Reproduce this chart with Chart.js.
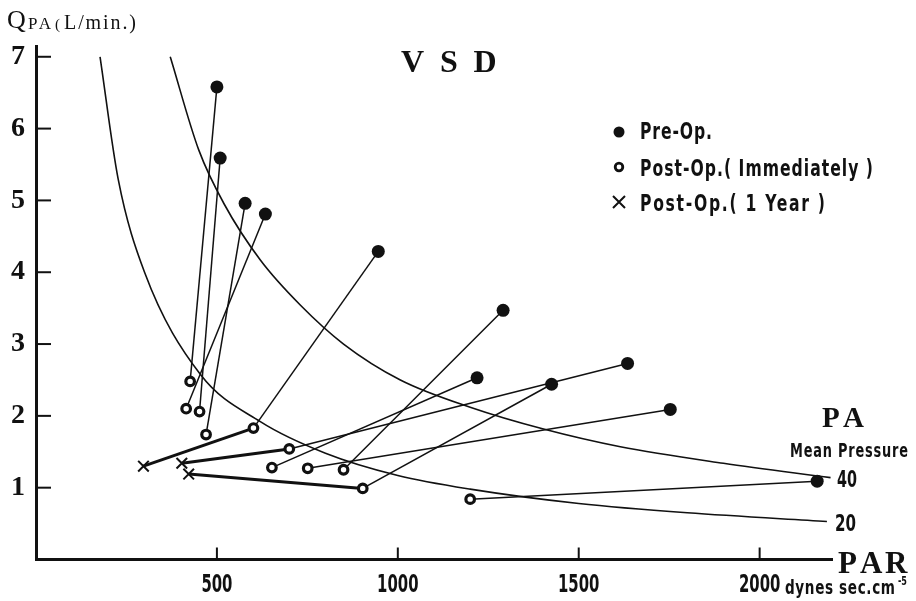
<!DOCTYPE html>
<html><head><meta charset="utf-8">
<script src="https://cdn.jsdelivr.net/npm/chart.js@4.4.1/dist/chart.umd.min.js"></script>
<style>html,body{margin:0;padding:0;background:#fff;}#wrap{width:916px;height:601px;}</style>
</head><body><div id="wrap"><canvas id="c" width="916" height="601"></canvas></div>
<script>
// ---- data (PAR in dynes sec cm-5, QPA in L/min) ----
const preOpPAR  = [500, 509, 578, 634, 946, 1291, 1219, 1425, 1635, 1753, 2159];
const preOpQPA  = [6.58, 5.59, 4.96, 4.81, 4.29, 3.47, 2.53, 2.44, 2.73, 2.09, 1.09];
const postOpPAR = [426, 452, 470, 415, 601, 850, 652, 903, 700, 751, 1200];
const postOpQPA = [2.48, 2.06, 1.74, 2.10, 1.83, 1.25, 1.28, 0.99, 1.54, 1.27, 0.84];
const yearPatient = [4, 8, 7];
const yearPAR = [297, 403, 422];
const yearQPA = [1.30, 1.34, 1.19];
const iso20PAR = [177, 227, 300, 454, 620, 800, 1000, 1200, 1500, 1800, 2186];
const iso20QPA = [7.0, 5.3, 4.0, 2.58, 1.92, 1.48, 1.17, 0.98, 0.78, 0.65, 0.53];
const iso40PAR = [371, 450, 520, 620, 731, 850, 1007, 1200, 1400, 1615, 1900, 2196];
const iso40QPA = [7.0, 5.7, 4.95, 4.17, 3.54, 3.0, 2.5, 2.12, 1.82, 1.57, 1.34, 1.14];
const xTickValues = [500, 1000, 1500, 2000];
const yTickValues = [1, 2, 3, 4, 5, 6, 7];
const seriesNames = ['Pre-Op.', 'Post-Op.( Immediately )', 'Post-Op.( 1 Year )'];
const isoLabels = ['40', '20'];

const SANS = '"DejaVu Sans", sans-serif';
const SERIF = '"Liberation Serif", "DejaVu Serif", serif';
const INK = '#111';
const COND = 0.68;
const TICK_COND = 0.62;

class CondensedLinearScale extends Chart.LinearScale {
  drawLabels(chartArea) {
    const ctx = this.ctx;
    const items = this.getLabelItems(chartArea);
    for (const it of items) {
      const o = it.options;
      ctx.save();
      ctx.translate(o.translation[0], o.translation[1]);
      ctx.scale(TICK_COND, 1);
      ctx.font = it.font.string; ctx.fillStyle = o.color;
      ctx.textAlign = o.textAlign; ctx.textBaseline = o.textBaseline;
      ctx.fillText(it.label, 0, it.textOffset);
      ctx.restore();
    }
  }
}
CondensedLinearScale.id = 'condensedLinear';
CondensedLinearScale.defaults = Chart.LinearScale.defaults;
Chart.register(CondensedLinearScale);

const pts = (xs, ys) => xs.map((x, i) => ({x, y: ys[i]}));
const datasets = [
  {label: seriesNames[0], data: pts(preOpPAR, preOpQPA), pointStyle: 'circle', pointRadius: 6.5,
   backgroundColor: INK, borderColor: INK, borderWidth: 0, order: 0},
  {label: seriesNames[1], data: pts(postOpPAR, postOpQPA), pointStyle: 'circle', pointRadius: 4.3,
   backgroundColor: '#fff', borderColor: INK, borderWidth: 3.2, order: 0},
  {label: seriesNames[2], data: pts(yearPAR, yearQPA), pointStyle: 'crossRot', pointRadius: 7.5,
   borderColor: INK, borderWidth: 2, order: 0},
  {label: 'iso20', data: pts(iso20PAR, iso20QPA), showLine: true, pointRadius: 0, borderColor: INK,
   borderWidth: 1.6, cubicInterpolationMode: 'monotone', order: 9},
  {label: 'iso40', data: pts(iso40PAR, iso40QPA), showLine: true, pointRadius: 0, borderColor: INK,
   borderWidth: 1.6, cubicInterpolationMode: 'monotone', order: 9}
];
preOpPAR.forEach((x, i) => datasets.push({
  label: 'link' + i, data: [{x, y: preOpQPA[i]}, {x: postOpPAR[i], y: postOpQPA[i]}],
  showLine: true, pointRadius: 0, borderColor: INK, borderWidth: 1.5, order: 5}));
yearPAR.forEach((x, i) => { const p = yearPatient[i]; datasets.push({
  label: 'year' + i, data: [{x, y: yearQPA[i]}, {x: postOpPAR[p], y: postOpQPA[p]}],
  showLine: true, pointRadius: 0, borderColor: INK, borderWidth: 3, order: 5}); });

// draw text starting at `left`, condensed by `cond`, spread with letter spacing to `width`
function fitText(ctx, str, left, base, width, font, cond) {
  cond = cond || 1;
  ctx.save();
  ctx.font = font; ctx.letterSpacing = '0px';
  ctx.textAlign = 'left'; ctx.textBaseline = 'alphabetic';
  const raw = ctx.measureText(str).width;
  ctx.translate(left, base);
  if (raw * cond <= width) {
    ctx.scale(cond, 1);
    const ls = str.length > 1 ? (width - raw * cond) / (str.length - 1) / cond : 0;
    ctx.letterSpacing = ls.toFixed(2) + 'px';
  } else {
    ctx.scale(width / raw, 1);
  }
  ctx.fillText(str, 0, 0);
  ctx.restore();
}

const annot = {
  id: 'annot',
  afterDraw(chart) {
    const {ctx, scales: {x, y}} = chart;
    ctx.save();
    ctx.strokeStyle = INK; ctx.fillStyle = INK; ctx.lineWidth = 2;
    yTickValues.forEach(v => { const py = y.getPixelForValue(v);
      ctx.beginPath(); ctx.moveTo(x.left, py); ctx.lineTo(x.left + 15, py); ctx.stroke(); });
    xTickValues.forEach(v => { const px = x.getPixelForValue(v);
      ctx.beginPath(); ctx.moveTo(px, y.bottom); ctx.lineTo(px, y.bottom - 12); ctx.stroke(); });
    // y-axis title
    ctx.textAlign = 'left'; ctx.textBaseline = 'alphabetic';
    ctx.font = `26px ${SERIF}`; ctx.fillText('Q', 7, 28);
    fitText(ctx, 'PA', 28, 29, 23, `17px ${SERIF}`);
    fitText(ctx, '(', 55, 29, 5, `15px ${SERIF}`);
    fitText(ctx, 'L/min.)', 64, 29, 72, `20px ${SERIF}`);
    // title
    ctx.font = `bold 32px ${SERIF}`;
    ctx.textAlign = 'center';
    ctx.fillText('V', 412.5, 72); ctx.fillText('S', 449, 72); ctx.fillText('D', 485, 72);
    // right labels
    ctx.font = `bold 29px ${SERIF}`; ctx.textAlign = 'left';
    ctx.fillText('P', 822, 427); ctx.fillText('A', 843, 427);
    fitText(ctx, 'Mean Pressure', 790, 457, 118, `bold 19px ${SANS}`, COND);
    fitText(ctx, isoLabels[0], 837, 487, 20, `bold 23px ${SANS}`, COND);
    fitText(ctx, isoLabels[1], 835, 531, 21, `bold 23px ${SANS}`, COND);
    ctx.font = `bold 31px ${SERIF}`; ctx.textAlign = 'left';
    ctx.fillText('P', 838, 573); ctx.fillText('A', 860, 573); ctx.fillText('R', 885, 573);
    fitText(ctx, 'dynes sec.cm', 785, 594, 110, `bold 20px ${SANS}`, COND);
    fitText(ctx, '-5', 898, 585, 9, `bold 13px ${SANS}`, COND);
    // legend
    const lx = 619, rows = [132, 167, 202], bases = [139, 176, 211], widths = [72, 233, 185];
    ctx.beginPath(); ctx.arc(lx, rows[0], 5.5, 0, Math.PI * 2); ctx.fill();
    ctx.lineWidth = 2.8; ctx.beginPath(); ctx.arc(lx, rows[1], 3.8, 0, Math.PI * 2);
    ctx.fillStyle = '#fff'; ctx.fill(); ctx.stroke(); ctx.fillStyle = INK;
    ctx.lineWidth = 2; ctx.beginPath();
    ctx.moveTo(lx - 6, rows[2] - 6); ctx.lineTo(lx + 6, rows[2] + 6);
    ctx.moveTo(lx + 6, rows[2] - 6); ctx.lineTo(lx - 6, rows[2] + 6); ctx.stroke();
    seriesNames.forEach((s, i) => fitText(ctx, s, 640, bases[i], widths[i], `bold 23px ${SANS}`, COND));
    ctx.restore();
  }
};

new Chart(document.getElementById('c'), {
  type: 'scatter',
  data: {datasets},
  options: {
    responsive: false, animation: false, events: [],
    layout: {padding: {top: 46, right: 84, left: 0, bottom: 0}},
    plugins: {legend: {display: false}, tooltip: {enabled: false}, title: {display: false}},
    scales: {
      x: {type: 'condensedLinear', min: 0, max: 2200,
        afterFit(s) { s.height = 41.5; },
        afterBuildTicks(s) { s.ticks = xTickValues.map(v => ({value: v})); },
        grid: {display: false, drawTicks: false},
        border: {display: true, width: 3, color: INK},
        ticks: {padding: 12, color: INK, font: {family: SANS, size: 24, weight: 'bold'}, maxRotation: 0,
          autoSkip: false, callback: v => String(v)}},
      y: {type: 'linear', min: 0, max: 7.15,
        afterFit(s) { s.width = 36; },
        afterBuildTicks(s) { s.ticks = yTickValues.map(v => ({value: v})); },
        grid: {display: false, drawTicks: false},
        border: {display: true, width: 3, color: INK},
        ticks: {padding: 11, color: INK, font: {family: SERIF, size: 28, weight: 'bold'},
          callback: v => String(v)}}
    }
  },
  plugins: [annot]
});
</script></body></html>
